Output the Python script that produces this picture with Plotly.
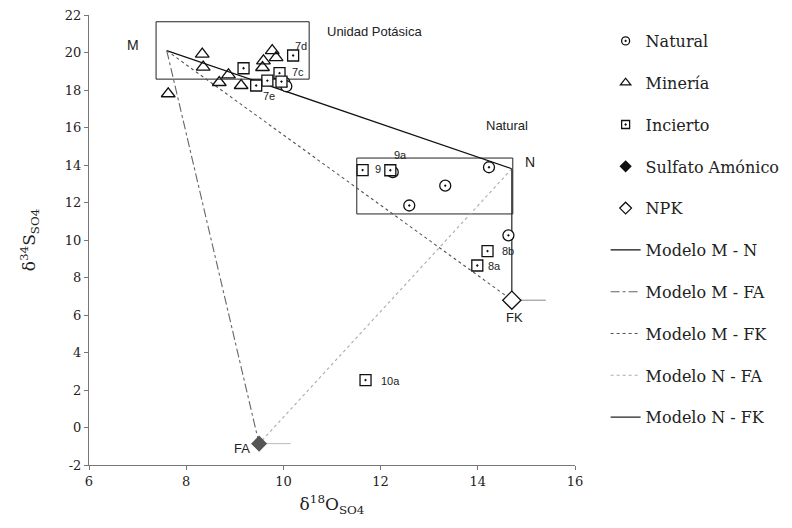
import plotly.graph_objects as go

# ---- data ----
natural_x = [10.02, 10.06, 12.25, 14.23, 13.33, 12.59, 14.63]
natural_y = [18.40, 18.20, 13.62, 13.88, 12.90, 11.84, 10.25]

mineria_x = [8.33, 8.35, 8.87, 8.68, 9.13, 9.59, 9.57, 9.77, 9.85, 7.63]
mineria_y = [19.91, 19.22, 18.81, 18.40, 18.24, 19.55, 19.20, 20.10, 19.73, 17.80]

incierto_x = [9.18, 10.20, 9.92, 9.67, 9.44, 9.96, 11.63, 12.20, 14.20, 13.99, 11.69]
incierto_y = [19.16, 19.84, 18.90, 18.50, 18.24, 18.45, 13.73, 13.72, 9.41, 8.64, 2.53]

sulfato_x = [9.50]
sulfato_y = [-0.86]
sulfato_err_plus = [0.65]

npk_x = [14.70]
npk_y = [6.79]
npk_err_plus = [0.70]

# end-members of the mixing models
M = (7.60, 20.10)
N = (14.70, 13.80)
FA = (9.50, -0.86)
FK = (14.70, 6.80)

models = [
    ("Modelo M - N", M, N),
    ("Modelo M - FA", M, FA),
    ("Modelo M - FK", M, FK),
    ("Modelo N - FA", N, FA),
    ("Modelo N - FK", N, FK),
]
model_styles = {
    "Modelo M - N": dict(color="#111111", width=1.2, dash="solid"),
    "Modelo M - FA": dict(color="#666666", width=1.1, dash="dashdot"),
    "Modelo M - FK": dict(color="#555555", width=1.1, dash="dot"),
    "Modelo N - FA": dict(color="#aaaaaa", width=1.1, dash="dot"),
    "Modelo N - FK": dict(color="#222222", width=1.2, dash="solid"),
}

boxes = [  # x0, x1, y0, y1
    (7.38, 10.53, 18.58, 21.64),
    (11.51, 14.72, 11.39, 14.37),
]

labels = [  # text, x, y, anchor, size
    ("M", 6.91, 20.4, "center", 14),
    ("Unidad Potásica", 10.86, 21.1, "left", 13),
    ("Natural", 14.6, 16.1, "center", 13),
    ("N", 15.07, 14.18, "center", 14),
    ("7d", 10.36, 20.35, "center", 11),
    ("7c", 10.31, 18.95, "center", 11),
    ("7e", 9.70, 17.70, "center", 11),
    ("9a", 12.40, 14.55, "center", 11),
    ("9", 11.95, 13.80, "center", 11),
    ("8b", 14.62, 9.40, "center", 11),
    ("8a", 14.35, 8.60, "center", 11),
    ("FK", 14.75, 5.85, "center", 13),
    ("FA", 9.15, -1.10, "center", 13),
    ("10a", 12.20, 2.50, "center", 11),
]

x_ticks = [6, 8, 10, 12, 14, 16]
y_ticks = [-2, 0, 2, 4, 6, 8, 10, 12, 14, 16, 18, 20, 22]

FONT = "DejaVu Serif"
LABEL_FONT = "Liberation Sans"

fig = go.Figure()

# model lines first (drawn underneath)
for name, a, b in models:
    fig.add_trace(go.Scatter(
        x=[a[0], b[0]], y=[a[1], b[1]], mode="lines", name=name,
        legendgroup=name, line=model_styles[name], showlegend=True,
    ))

marker_series = [
    # name, xs, ys, symbol, size, line color, fill, legend size, legend fill, err
    ("Natural", natural_x, natural_y, "circle-dot", 11, "#111111", "white", 8, "white", None),
    ("Minería", mineria_x, mineria_y, "triangle-up-open", 12, "#111111", "#111111", 9, "#111111", None),
    ("Incierto", incierto_x, incierto_y, "square-dot", 11, "#111111", "white", 8, "white", None),
    ("Sulfato Amónico", sulfato_x, sulfato_y, "diamond", 11, "#555555", "#555555", 8, "#111111",
     dict(type="data", symmetric=False, array=sulfato_err_plus, arrayminus=[0],
          color="#bbbbbb", thickness=1, width=0)),
    ("NPK", npk_x, npk_y, "diamond", 14, "#111111", "white", 9, "white",
     dict(type="data", symmetric=False, array=npk_err_plus, arrayminus=[0],
          color="#888888", thickness=1, width=0)),
]

for name, xs, ys, sym, size, lc, fill, lsize, lfill, err in marker_series:
    fig.add_trace(go.Scatter(
        x=xs, y=ys, mode="markers", name=name, legendgroup=name, showlegend=False,
        marker=dict(symbol=sym, size=size, color=fill, line=dict(color=lc, width=1.3)),
        error_x=err if err else None,
    ))
    # legend-only entry with a small marker
    fig.add_trace(go.Scatter(
        x=[None], y=[None], mode="markers", name=name, legendgroup=name, showlegend=True,
        marker=dict(symbol=sym, size=lsize, color=lfill,
                    line=dict(color="#111111", width=1.3)),
    ))

order = ["Natural", "Minería", "Incierto", "Sulfato Amónico", "NPK",
         "Modelo M - N", "Modelo M - FA", "Modelo M - FK", "Modelo N - FA", "Modelo N - FK"]
for tr in fig.data:
    tr.legendrank = order.index(tr.name) + 1

for x0, x1, y0, y1 in boxes:
    fig.add_shape(type="rect", x0=x0, x1=x1, y0=y0, y1=y1, xref="x", yref="y",
                  line=dict(color="#222222", width=1), layer="below")

for text, x, y, anc, size in labels:
    fig.add_annotation(x=x, y=y, text=text, showarrow=False, xanchor=anc,
                       font=dict(family=LABEL_FONT, size=size, color="#222222"))

fig.update_layout(
    width=792, height=528,
    margin=dict(l=89, r=217, t=15, b=63, autoexpand=False),
    paper_bgcolor="white", plot_bgcolor="white",
    font=dict(family=FONT, size=13, color="#222222"),
    showlegend=True,
    legend=dict(x=1.063, y=0.98, xanchor="left", yanchor="top",
                font=dict(family=FONT, size=16, color="#222222"),
                tracegroupgap=18, bgcolor="rgba(0,0,0,0)"),
)
fig.update_xaxes(range=[6, 16], tickvals=x_ticks, ticktext=[str(v) for v in x_ticks],
                 showgrid=False, zeroline=False, showline=True, linecolor="#777777",
                 ticks="outside", ticklen=4, tickcolor="#777777",
                 title=dict(text="δ<sup>18</sup>O<sub>SO4</sub>", font=dict(size=17), standoff=10))
fig.update_yaxes(range=[-2, 22], tickvals=y_ticks, ticktext=[str(v) for v in y_ticks],
                 showgrid=False, zeroline=False, showline=True, linecolor="#777777",
                 ticks="outside", ticklen=4, tickcolor="#777777",
                 title=dict(text="δ<sup>34</sup>S<sub>SO4</sub>", font=dict(size=17), standoff=24))

fig.write_html("out.html")
